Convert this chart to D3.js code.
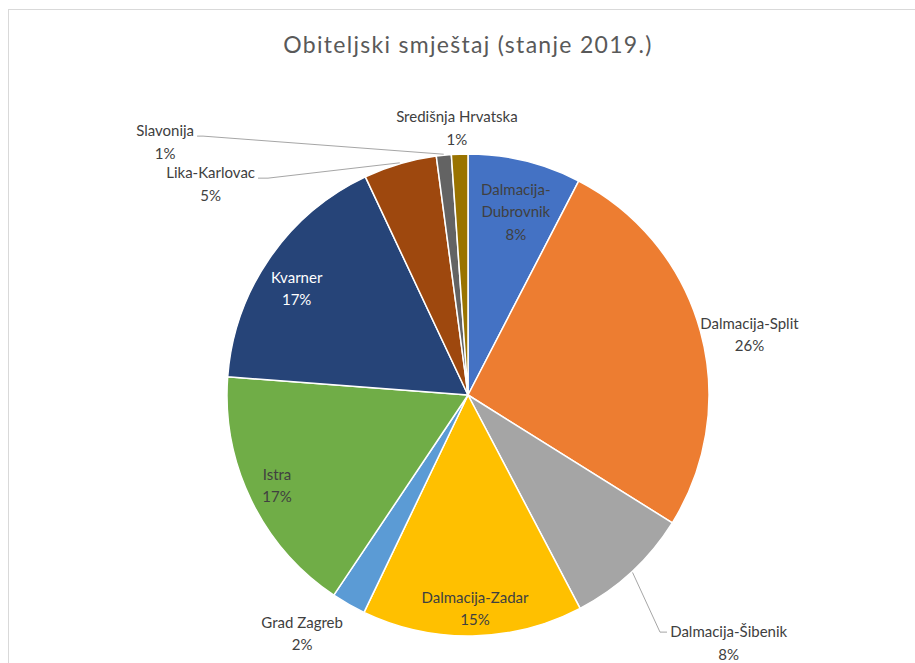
<!DOCTYPE html>
<html>
<head>
<meta charset="utf-8">
<script src="https://cdn.jsdelivr.net/npm/d3@7"></script>
<style>
  body { margin: 0; background: #fff; }
  text { font-family: Lato, "Open Sans", sans-serif; }
</style>
</head>
<body>
<div id="chart"></div>
<script>
// data (share of beds, %)
const regions = ["Dalmacija-Dubrovnik", "Dalmacija-Split", "Dalmacija-Šibenik", "Dalmacija-Zadar",
  "Grad Zagreb", "Istra", "Kvarner", "Lika-Karlovac", "Slavonija", "Središnja Hrvatska"];
const shares = [7.6, 26.3, 8.4, 14.8, 2.3, 16.8, 16.8, 4.9, 1.0, 1.1];
const colors = ["#4472C4", "#ED7D31", "#A5A5A5", "#FFC000", "#5B9BD5",
  "#70AD47", "#264478", "#9E480E", "#636363", "#997300"];
const title = "Obiteljski smještaj (stanje 2019.)";

const width = 915, height = 663;
const cx = 468, cy = 395, R = 241;

// label placement: k = radius factor, da = angle shift (deg) from slice middle
// leader labels get an elbow point and a short horizontal tail
const labelLayout = [
  {k: 0.788, da: 0.9, wrap: true},
  {k: 1.195, da: 3.1},
  {k: 1.266, da: 3.84, leader: 1, tail: 7, dy: -1},
  {k: 0.884, da: -0.8},
  {k: 1.203, da: 5.2},
  {k: 0.876, da: 0.7},
  {k: 0.838, da: -2.6, fill: "#fff"},
  {k: 1.224, da: -26.3, leader: -1, tail: 10, dy: -6},
  {k: 1.537, da: -39.9, leader: -1, tail: 6, dy: -6},
  {k: 1.112, da: -0.4}
];

const svg = d3.select("#chart").append("svg")
  .attr("width", width)
  .attr("height", height);

// chart area frame
svg.append("rect")
  .attr("x", 8.5).attr("y", 9.5)
  .attr("width", 1000).attr("height", 1000)
  .attr("fill", "#fff")
  .attr("stroke", "#d9d9d9");

svg.append("text")
  .attr("x", cx).attr("y", 53)
  .attr("text-anchor", "middle")
  .attr("font-size", 23)
  .attr("letter-spacing", 1.3)
  .attr("fill", "#595959")
  .text(title);

const total = d3.sum(shares);
const pie = d3.pie().sort(null).value(d => d);
const arcs = pie(shares);
const arc = d3.arc().innerRadius(0).outerRadius(R);

const g = svg.append("g").attr("transform", `translate(${cx},${cy})`);

g.selectAll("path")
  .data(arcs)
  .enter()
  .append("path")
  .attr("d", arc)
  .attr("fill", (d, i) => colors[i])
  .attr("stroke", "#fff")
  .attr("stroke-width", 1.5)
  .attr("stroke-linejoin", "round");

function polar(a, r) {
  return [r * Math.sin(a), -r * Math.cos(a)];
}

const pct = d3.format(".0%");
const lineH = 22.5;

arcs.forEach(function(d, i) {
  const lay = labelLayout[i];
  const mid = (d.startAngle + d.endAngle) / 2;
  const a = mid + lay.da * Math.PI / 180;
  const p = polar(a, R * lay.k);
  const lines = lay.wrap ? ["Dalmacija-", "Dubrovnik"] : [regions[i]];
  lines.push(pct(d.value / total));

  const t = g.append("text")
    .attr("font-size", 15)
    .attr("fill", lay.fill || "#404040")
    .attr("text-anchor", "middle")
    .attr("dominant-baseline", "central");

  let x0 = p[0], y0 = p[1] - (lines.length - 1) / 2 * lineH;

  if (lay.leader) {
    const start = polar(mid, R + 1);
    const end = [p[0] + lay.leader * lay.tail, p[1]];
    g.append("path")
      .attr("d", d3.line()([start, p, end]))
      .attr("fill", "none")
      .attr("stroke", "#a6a6a6")
      .attr("stroke-width", 1);
    y0 = p[1] + lay.dy;
    x0 = end[0] + lay.leader * 3;
  }

  lines.forEach(function(s, j) {
    t.append("tspan").attr("x", 0).attr("y", y0 + j * lineH).text(s);
  });

  if (lay.leader) {
    // center the block next to the tail end
    const w = t.node().getBBox().width;
    t.selectAll("tspan").attr("x", x0 + lay.leader * w / 2);
  } else {
    t.selectAll("tspan").attr("x", x0);
  }
});
</script>
</body>
</html>
